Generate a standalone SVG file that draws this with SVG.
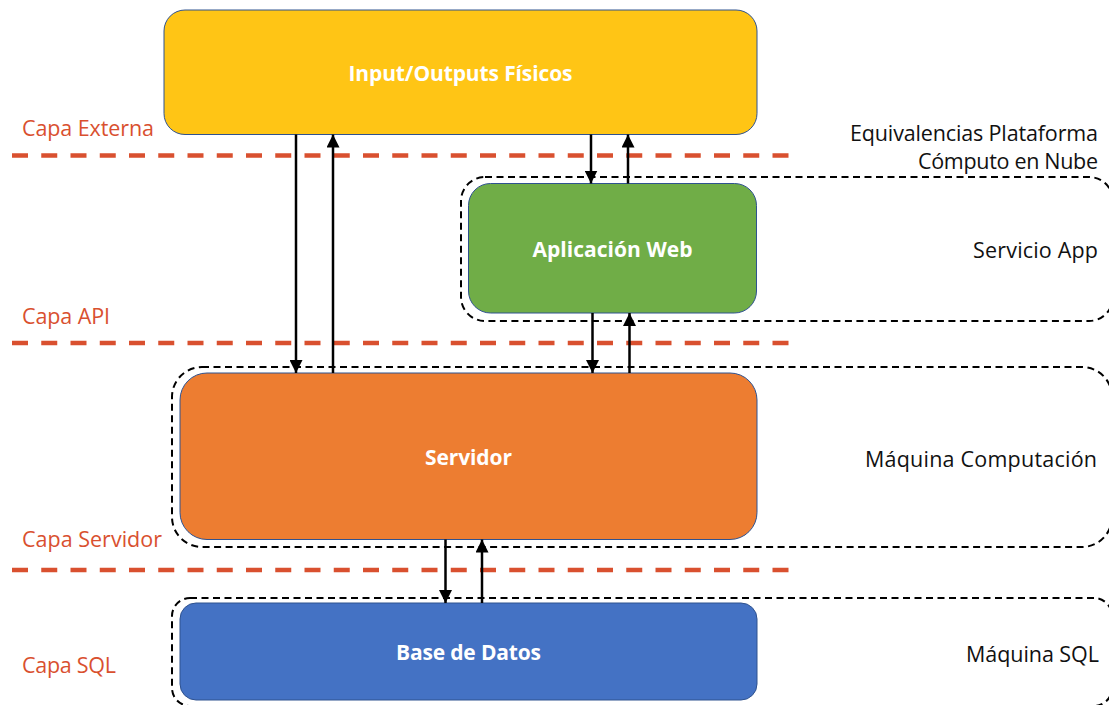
<svg xmlns="http://www.w3.org/2000/svg" width="1109" height="705" viewBox="0 0 1109 705">
  <style>
    .layer-line { stroke: #D9502F; stroke-width: 4.5; stroke-dasharray: 16 13.25; fill: none; }
    .layer-label { font-family: "Open Sans", "Liberation Sans", sans-serif; font-size: 21.5px; fill: #D9502F; }
    .group-box { fill: none; stroke: #000; stroke-width: 2; stroke-dasharray: 7 4.5; }
    .group-label { font-family: "Open Sans", "Liberation Sans", sans-serif; font-size: 21.5px; fill: #111; }
    .node-box { stroke: #2F528F; stroke-width: 1; }
    .node-label { font-family: "Open Sans", "Liberation Sans", sans-serif; font-size: 21px; font-weight: bold; fill: #fff; }
    .flow { stroke: #000; stroke-width: 2.5; fill: none; marker-end: url(#head); }
  </style>
  <defs>
    <marker id="head" markerUnits="userSpaceOnUse" markerWidth="13" markerHeight="13" refX="13" refY="6.5" orient="auto">
      <path d="M0,0 L13,6.5 L0,13 Z" fill="#000"/>
    </marker>
  </defs>

  <rect width="1109" height="705" fill="#fff"/>

  <!-- layer separators -->
  <g id="layers">
    <line class="layer-line" x1="12" y1="155.5" x2="790" y2="155.5"/>
    <line class="layer-line" x1="12" y1="343" x2="790" y2="343"/>
    <line class="layer-line" x1="12" y1="570" x2="790" y2="570"/>
    <text class="layer-label" x="22" y="136" textLength="132">Capa Externa</text>
    <text class="layer-label" x="22" y="323.5" textLength="88">Capa API</text>
    <text class="layer-label" x="22" y="547" textLength="140">Capa Servidor</text>
    <text class="layer-label" x="22" y="673" textLength="94">Capa SQL</text>
  </g>

  <!-- cloud platform equivalences -->
  <g id="cloud-heading">
    <text class="group-label" x="850" y="141" textLength="248">Equivalencias Plataforma</text>
    <text class="group-label" x="918" y="169" textLength="180">Cómputo en Nube</text>
  </g>
  <g id="servicio-app">
    <rect class="group-box" x="461" y="177" width="652" height="144" rx="24" ry="24"/>
    <text class="group-label" x="973" y="258" textLength="125">Servicio App</text>
  </g>
  <g id="maquina-computacion">
    <rect class="group-box" x="172" y="367" width="940" height="180" rx="30" ry="30"/>
    <text class="group-label" x="865" y="467" textLength="232">Máquina Computación</text>
  </g>
  <g id="maquina-sql">
    <rect class="group-box" x="172" y="598" width="940" height="108" rx="18" ry="18"/>
    <text class="group-label" x="966" y="662" textLength="133">Máquina SQL</text>
  </g>

  <!-- components -->
  <g id="io-fisicos">
    <rect class="node-box" x="164" y="10" width="593" height="124.5" rx="21" ry="21" fill="#FFC515"/>
    <text class="node-label" x="348.5" y="81" textLength="224">Input/Outputs Físicos</text>
  </g>
  <g id="aplicacion-web">
    <rect class="node-box" x="468.5" y="183.5" width="288" height="129.5" rx="22" ry="22" fill="#70AD47"/>
    <text class="node-label" x="532.5" y="257" textLength="160">Aplicación Web</text>
  </g>
  <g id="servidor">
    <rect class="node-box" x="180" y="373" width="577" height="166.5" rx="27" ry="27" fill="#ED7D31"/>
    <text class="node-label" x="425" y="465" textLength="87">Servidor</text>
  </g>
  <g id="base-de-datos">
    <rect class="node-box" x="180" y="603" width="577" height="97" rx="16" ry="16" fill="#4472C4"/>
    <text class="node-label" x="396" y="660" textLength="145">Base de Datos</text>
  </g>

  <!-- data flows -->
  <g id="connectors">
    <line class="flow" x1="296" y1="134.5" x2="296" y2="373"/>
    <line class="flow" x1="333" y1="373" x2="333" y2="134.5"/>
    <line class="flow" x1="591" y1="134.5" x2="591" y2="183.5"/>
    <line class="flow" x1="628" y1="183.5" x2="628" y2="134.5"/>
    <line class="flow" x1="592.5" y1="313" x2="592.5" y2="373"/>
    <line class="flow" x1="629.5" y1="373" x2="629.5" y2="313"/>
    <line class="flow" x1="445.5" y1="539.5" x2="445.5" y2="603"/>
    <line class="flow" x1="482" y1="603" x2="482" y2="539.5"/>
  </g>
</svg>
